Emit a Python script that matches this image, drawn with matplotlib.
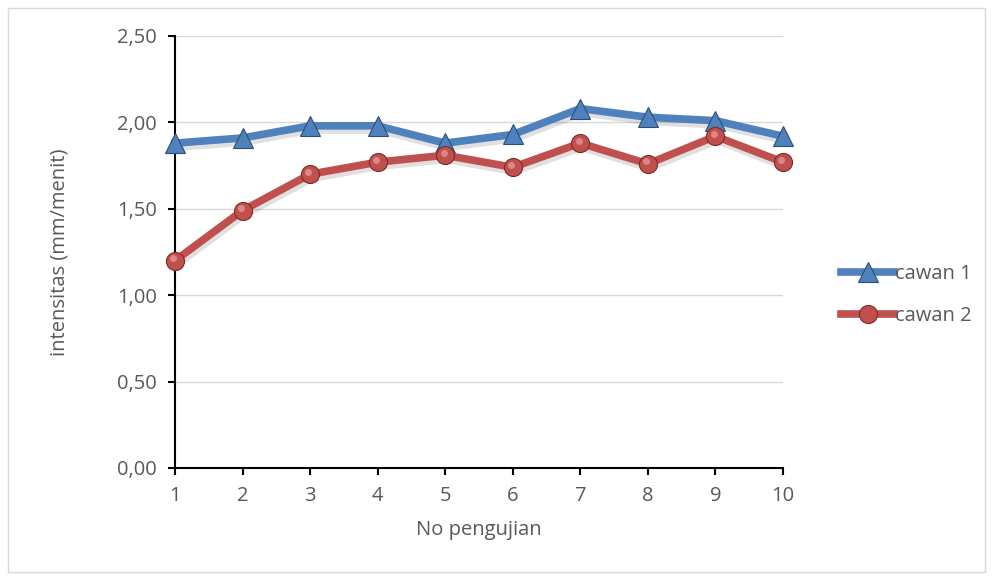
import matplotlib
matplotlib.use("Agg")
import matplotlib.pyplot as plt
import matplotlib.transforms as mtransforms
from matplotlib.patches import Rectangle

pengujian = [1, 2, 3, 4, 5, 6, 7, 8, 9, 10]
cawan_1 = [1.88, 1.91, 1.98, 1.98, 1.88, 1.93, 2.08, 2.03, 2.01, 1.92]
cawan_2 = [1.20, 1.49, 1.70, 1.77, 1.81, 1.74, 1.88, 1.76, 1.92, 1.77]
y_ticks = [0.0, 0.5, 1.0, 1.5, 2.0, 2.5]

text_color = "#595959"
fs = 14.5
plt.rcParams["font.family"] = ["Open Sans", "DejaVu Sans"]

fig = plt.figure(figsize=(9.92, 5.79), dpi=100)
ax = fig.add_axes([175 / 992, 1 - 468 / 579, (783 - 175) / 992, (468 - 36) / 579])

# chart area frame
fig.patches.append(Rectangle((8 / 992, 7 / 579), 977 / 992, 564 / 579,
                             transform=fig.transFigure, fill=False,
                             edgecolor="#d9d9d9", linewidth=1))

# soft shadows under the lines
shadow_tr = mtransforms.offset_copy(ax.transData, fig=fig, x=1.0, y=-2.5, units="points")
for vals in (cawan_1, cawan_2):
    ax.plot(pengujian, vals, color="black", alpha=0.12, linewidth=6.5,
            transform=shadow_tr, clip_on=False, zorder=2)

ax.plot(pengujian, cawan_1, color="#4F81BD", linewidth=5.5, marker="^",
        markersize=14, markerfacecolor="#4F81BD", markeredgecolor="#2C4D75",
        markeredgewidth=0.8, label="cawan 1", clip_on=False, zorder=3)
ax.plot(pengujian, cawan_2, color="#C0504D", linewidth=5.5, marker="o",
        markersize=13, markerfacecolor="#C0504D", markeredgecolor="#7F2A28",
        markeredgewidth=0.8, label="cawan 2", clip_on=False, zorder=3)

# glossy highlight on the round markers
hl_tr = mtransforms.offset_copy(ax.transData, fig=fig, x=-1.2, y=1.8, units="points")
ax.plot(pengujian, cawan_2, linestyle="none", marker="o", markersize=5,
        markerfacecolor="#F4B6B4", markeredgewidth=0, alpha=0.55,
        transform=hl_tr, clip_on=False, zorder=4)

ax.set_xlim(1, 10)
ax.set_ylim(0, 2.5)
ax.set_xticks(pengujian)
ax.set_yticks(y_ticks)
ax.set_yticklabels([f"{v:.2f}".replace(".", ",") for v in y_ticks])
ax.yaxis.grid(True, color="#d9d9d9", linewidth=1)
ax.set_axisbelow(True)

for side in ["top", "right"]:
    ax.spines[side].set_visible(False)
for side in ["left", "bottom"]:
    ax.spines[side].set_color("black")
    ax.spines[side].set_linewidth(1.5)

ax.tick_params(axis="both", direction="out", length=5, width=1.5,
               color="black", labelcolor=text_color, labelsize=fs)
ax.tick_params(axis="x", pad=8)
ax.tick_params(axis="y", pad=8)

ax.set_xlabel("No pengujian", color=text_color, fontsize=fs, labelpad=10)
ax.set_ylabel("intensitas (mm/menit)", color=text_color, fontsize=fs, labelpad=34)

leg = ax.legend(loc="center left", bbox_to_anchor=(833 / 992, 1 - 295 / 579),
                bbox_transform=fig.transFigure, frameon=False, fontsize=fs,
                handlelength=2.65, handletextpad=0.05, labelspacing=1.1,
                borderaxespad=0)
for t in leg.get_texts():
    t.set_color(text_color)

fig.savefig("out.png", dpi=100)
